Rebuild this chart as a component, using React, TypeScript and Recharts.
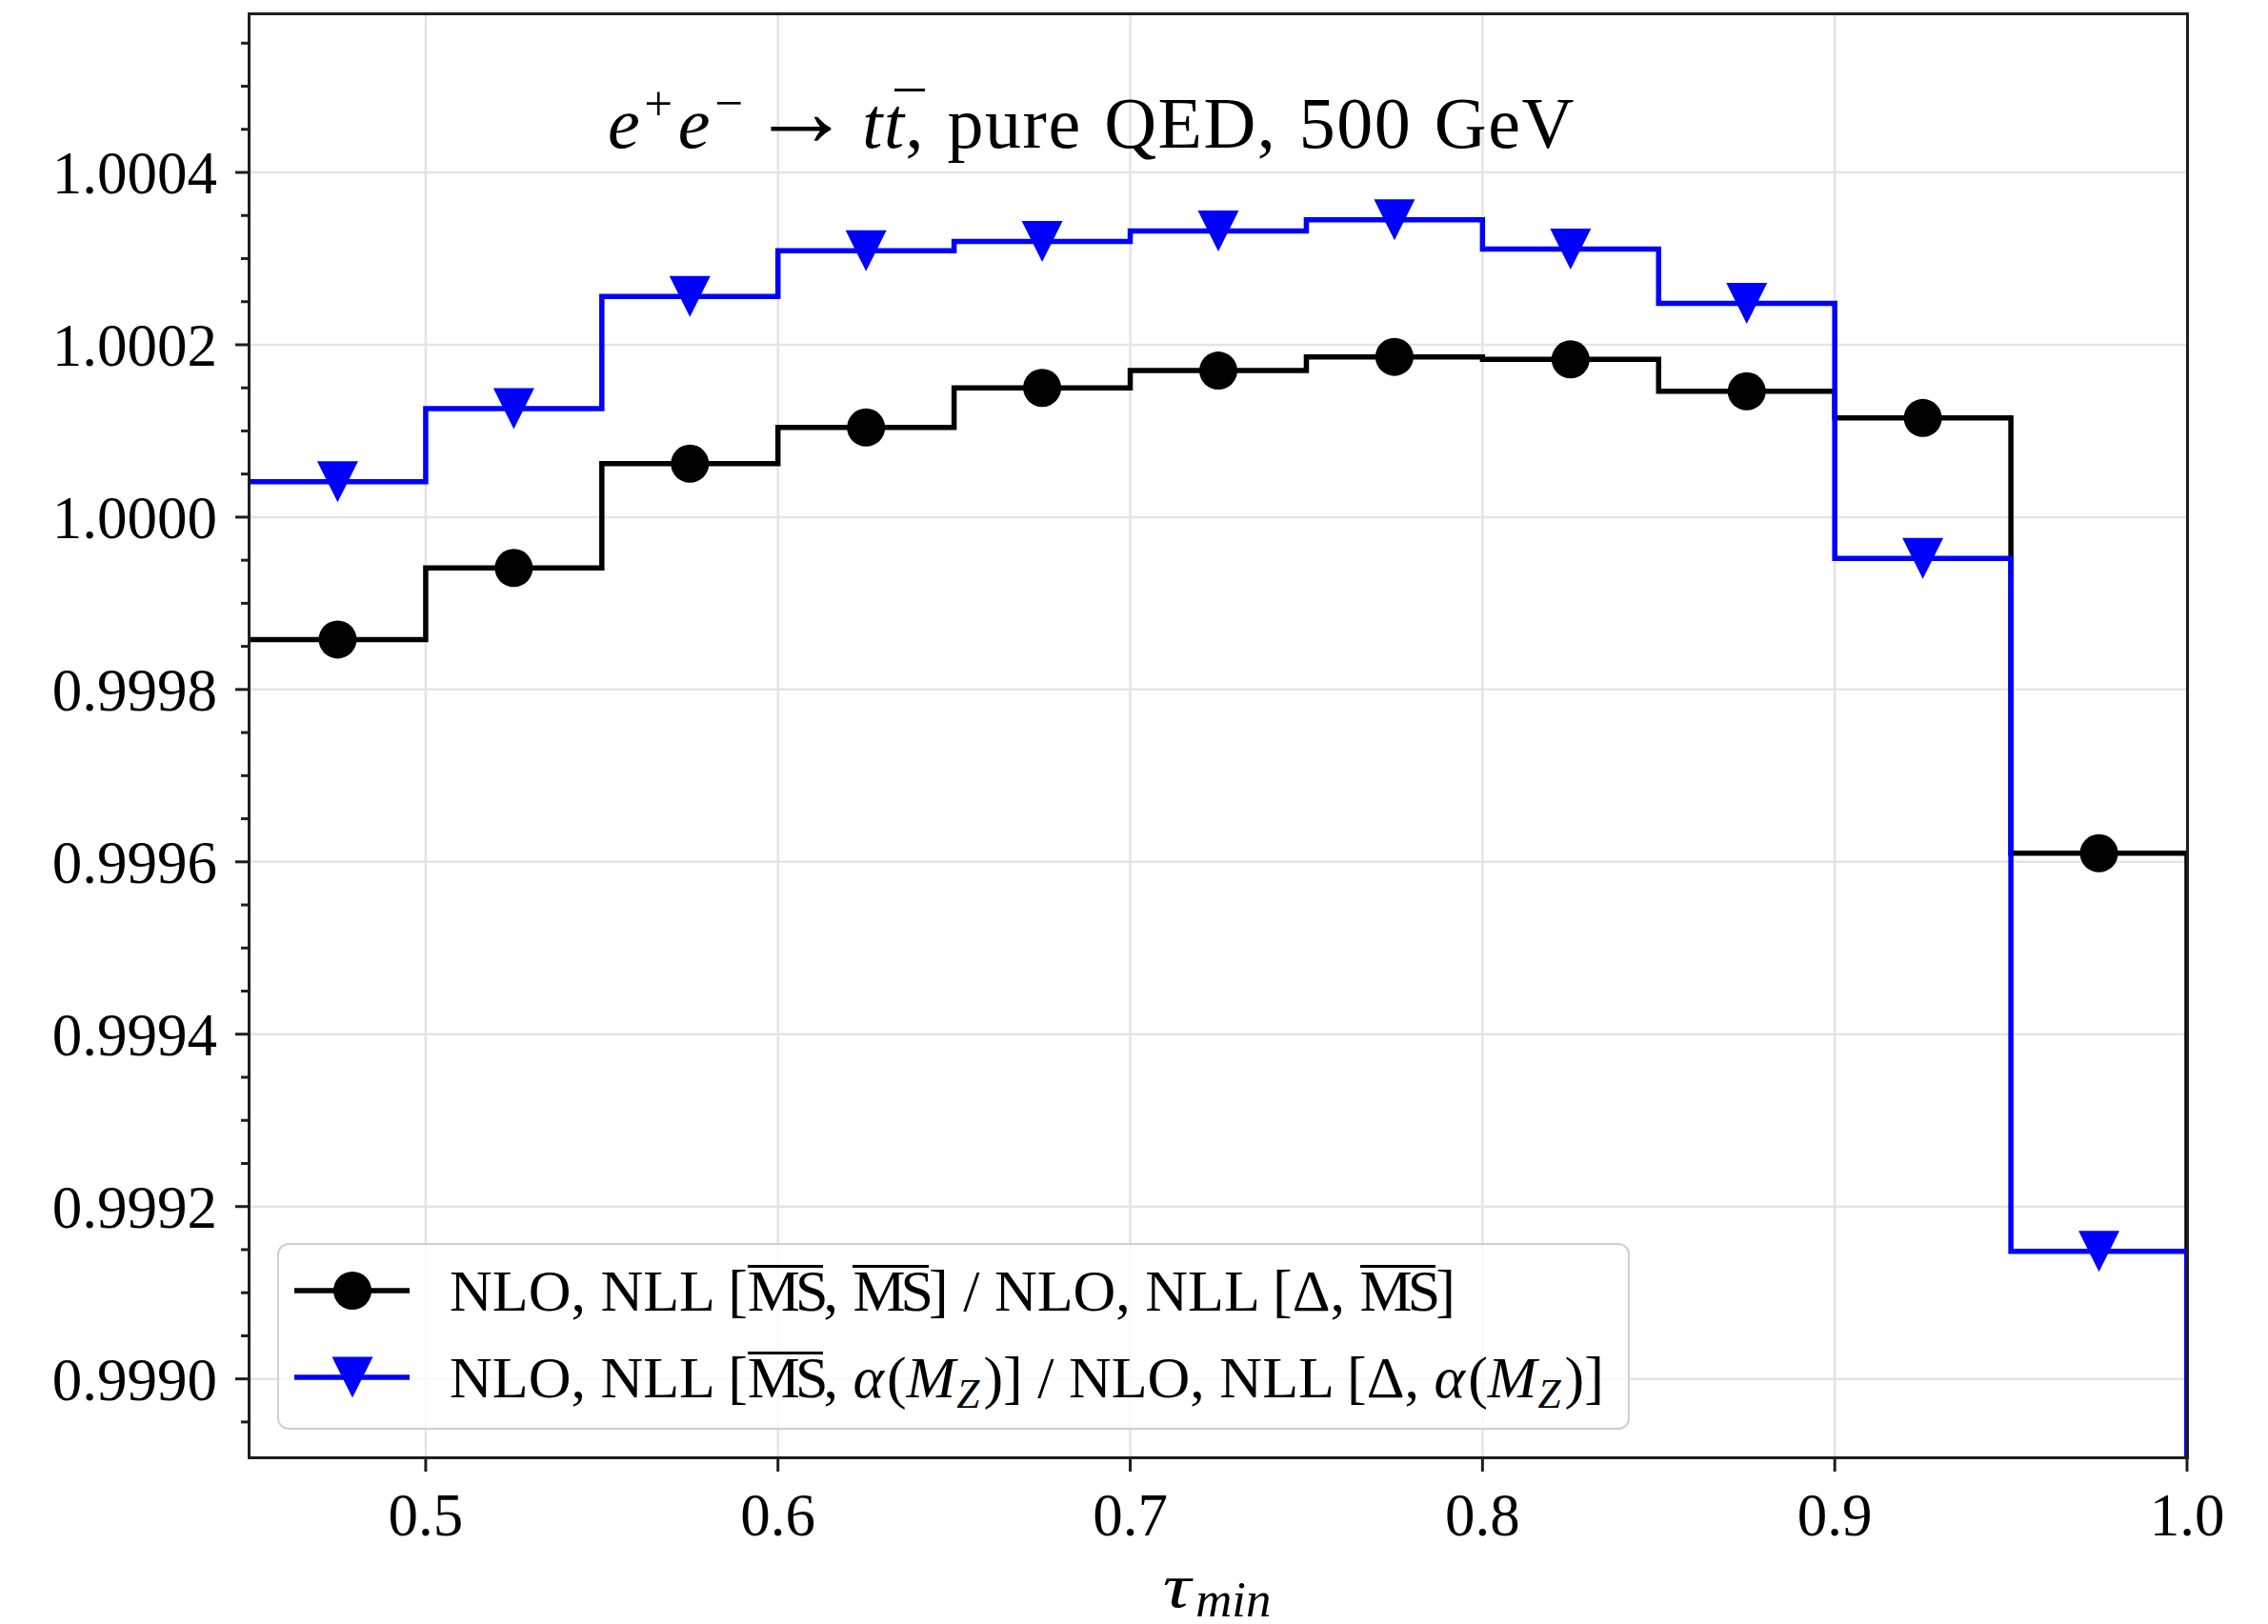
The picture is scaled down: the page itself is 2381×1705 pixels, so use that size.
import { ComposedChart, Line, Scatter, XAxis, YAxis, CartesianGrid, Legend } from "recharts";

const W = 2381;
const H = 1705;
const FONT = "'Liberation Serif', 'Times New Roman', serif";

// bin edges / centres in tau_min
const binEdges = [0.45, 0.5, 0.55, 0.6, 0.65, 0.7, 0.75, 0.8, 0.85, 0.9, 0.95, 1.0];
const binCenters = [0.475, 0.525, 0.575, 0.625, 0.675, 0.725, 0.775, 0.825, 0.875, 0.925, 0.975];

// NLO, NLL [MSbar, MSbar] / NLO, NLL [Delta, MSbar]
const ratioMsMs = [0.999858, 0.999941, 1.000062, 1.000104, 1.00015, 1.00017, 1.000186, 1.000183, 1.000146, 1.000115, 0.99961];
// NLO, NLL [MSbar, alpha(MZ)] / NLO, NLL [Delta, alpha(MZ)]
const ratioMsAlpha = [1.000041, 1.000126, 1.000256, 1.000309, 1.00032, 1.000332, 1.000345, 1.000311, 1.000248, 0.999952, 0.999148];

const xTicks = [0.5, 0.6, 0.7, 0.8, 0.9, 1.0];
const yMajorTicks = [0.999, 0.9992, 0.9994, 0.9996, 0.9998, 1.0, 1.0002, 1.0004];
const yMinorStep = 0.00005;
const yDomain: [number, number] = [0.998909, 1.0005835];

const yTicks: number[] = [];
for (let i = -1; i <= 32; i++) {
  const v = +(0.999 + i * yMinorStep).toFixed(5);
  if (v >= yDomain[0] && v <= yDomain[1]) yTicks.push(v);
}

const isMajor = (v: number) => yMajorTicks.some(t => Math.abs(t - v) < 1e-8);

// histogram-style stairs, dropping to the baseline at the last edge
const toStairs = (vals: number[]) => [
  ...vals.map((v, i) => ({ x: binEdges[i], y: v })),
  { x: binEdges[binEdges.length - 1], y: vals[vals.length - 1] },
  { x: binEdges[binEdges.length - 1], y: yDomain[0] },
];
const toPoints = (vals: number[]) => binCenters.map((x, i) => ({ x, y: vals[i] }));

const SPINE = "#1e1e1e";
const GRID = "#e4e4e4";
const BLUE = "#0000ff";
const LW = 5.5;
const MR = 20;

const Circle = ({ cx, cy }: { cx: number; cy: number }) => <circle cx={cx} cy={cy} r={MR} fill="#000" />;
const TriDown = ({ cx, cy }: { cx: number; cy: number }) => (
  <path d={`M${cx - 21.5},${cy - 21.5}L${cx + 21.5},${cy - 21.5}L${cx},${cy + 21.5}Z`} fill={BLUE} />
);

const YTick = ({ x, y, payload }: any) => {
  const major = isMajor(payload.value);
  return (
    <g>
      <line x1={x - (major ? 15 : 9)} x2={x} y1={y} y2={y} stroke={SPINE} strokeWidth={3} />
      {major && (
        <text x={x - 34} y={y + 22} textAnchor="end" fontSize={63} fontFamily={FONT} fill="#000">
          {payload.value.toFixed(4)}
        </text>
      )}
    </g>
  );
};

const XTick = ({ x, y, payload }: any) => (
  <g>
    <line x1={x} x2={x} y1={y} y2={y + 15} stroke={SPINE} strokeWidth={3} />
    <text x={x} y={y + 82} textAnchor="middle" fontSize={63} fontFamily={FONT} fill="#000">
      {payload.value.toFixed(1)}
    </text>
  </g>
);

// html text placed by its baseline
const BText = ({ x, baseline, fs, center, style, children }: any) => (
  <div
    style={{
      position: "absolute",
      left: x,
      top: baseline - 0.8375 * fs,
      fontSize: fs,
      lineHeight: `${fs}px`,
      fontFamily: FONT,
      whiteSpace: "nowrap",
      transform: center ? "translateX(-50%)" : undefined,
      color: "#000",
      ...style,
    }}
  >
    {children}
  </div>
);

const I = ({ children, style }: any) => <span style={{ fontStyle: "italic", ...style }}>{children}</span>;
// overbar drawn a little above the cap line
const Bar = ({ children, left = 0, width = "100%", top = 4, style }: any) => (
  <span style={{ position: "relative", display: "inline-block", ...style }}>
    {children}
    <span style={{ position: "absolute", left, width, top, borderTop: "3px solid #000" }} />
  </span>
);
const MS = () => <Bar style={{ letterSpacing: -5 }}>MS</Bar>;
const Sup = ({ children, style }: any) => (
  <span style={{ fontSize: "0.7em", position: "relative", top: "-0.55em", ...style }}>{children}</span>
);
const Sub = ({ children, style }: any) => (
  <span style={{ fontSize: "0.7em", position: "relative", top: "0.25em", ...style }}>{children}</span>
);

const alphaMz = (
  <>
    <I style={{ marginRight: 3 }}>α</I>(<I>M</I>
    <Sub style={{ marginLeft: 1, marginRight: 4 }}>
      <I>Z</I>
    </Sub>
    )
  </>
);

const labelMsMs = (
  <>
    NLO, NLL [<MS />, <MS />] / NLO, NLL [Δ, <MS />]
  </>
);
const labelMsAlpha = (
  <>
    NLO, NLL [<MS />, {alphaMz}] / NLO, NLL [Δ, {alphaMz}]
  </>
);

const legendRows = [
  { label: labelMsMs, color: "#000", marker: "circle" },
  { label: labelMsAlpha, color: BLUE, marker: "tri" },
];

const LegendBox = () => (
  <div
    style={{
      position: "relative",
      width: 1420,
      height: 196,
      boxSizing: "border-box",
      border: "2.5px solid #cfcfcf",
      borderRadius: 12,
      background: "rgba(255,255,255,0.8)",
    }}
  >
    {legendRows.map((r, i) => {
      const cy = 50 + i * 91;
      return (
        <div key={i}>
          <svg style={{ position: "absolute", left: 0, top: 0 }} width={160} height={196}>
            <line x1={16} x2={137} y1={cy - 2} y2={cy - 2} stroke={r.color} strokeWidth={LW} />
            {r.marker === "circle" ? <Circle cx={77} cy={cy - 2} /> : <TriDown cx={77} cy={cy - 2} />}
          </svg>
          <BText x={179} baseline={cy + 19} fs={62}>
            {r.label}
          </BText>
        </div>
      );
    })}
  </div>
);

export default function App() {
  return (
    <div style={{ position: "absolute", left: 0, top: 0, width: W, height: H, background: "#fff" }}>
      <ComposedChart width={W} height={H} margin={{ top: 15, right: 85, bottom: 0, left: 0 }}>
        <CartesianGrid stroke={GRID} strokeWidth={2.5} horizontalValues={yMajorTicks} verticalValues={xTicks} />
        <XAxis
          type="number"
          dataKey="x"
          domain={[0.45, 1.0]}
          allowDataOverflow
          ticks={xTicks}
          interval={0}
          height={175}
          axisLine={false}
          tickLine={false}
          tickSize={0}
          tickMargin={0}
          tick={<XTick />}
        />
        <YAxis
          type="number"
          dataKey="y"
          domain={yDomain}
          allowDataOverflow
          ticks={yTicks}
          interval={0}
          width={262}
          axisLine={false}
          tickLine={false}
          tickSize={0}
          tickMargin={0}
          tick={<YTick />}
        />
        <Line
          data={toStairs(ratioMsMs)}
          dataKey="y"
          type="stepAfter"
          stroke="#000"
          strokeWidth={LW}
          strokeLinejoin="miter"
          dot={false}
          activeDot={false}
          isAnimationActive={false}
        />
        <Scatter data={toPoints(ratioMsMs)} shape={Circle as any} isAnimationActive={false} />
        <Line
          data={toStairs(ratioMsAlpha)}
          dataKey="y"
          type="stepAfter"
          stroke={BLUE}
          strokeWidth={LW}
          strokeLinejoin="miter"
          dot={false}
          activeDot={false}
          isAnimationActive={false}
        />
        <Scatter data={toPoints(ratioMsAlpha)} shape={TriDown as any} isAnimationActive={false} />
        <Legend
          layout="horizontal"
          verticalAlign="middle"
          align="center"
          content={<LegendBox />}
          wrapperStyle={{ left: 291, top: 1305, width: 1420, height: 196 }}
        />
      </ComposedChart>

      {/* axes frame */}
      <div
        style={{
          position: "absolute",
          left: 262 - 1.75,
          top: 15 - 1.75,
          width: 2034 + 3.5,
          height: 1515 + 3.5,
          boxSizing: "border-box",
          border: `3.5px solid ${SPINE}`,
          pointerEvents: "none",
        }}
      />

      {/* title */}
      <BText x={638} baseline={155} fs={76} style={{ letterSpacing: 1.5, wordSpacing: 3 }}>
        <I>e</I>
        <Sup style={{ marginLeft: 3, marginRight: 4 }}>+</Sup>
        <I>e</I>
        <Sup style={{ marginLeft: 3, marginRight: 6 }}>−</Sup>
        <span style={{ fontSize: "1.4em", position: "relative", top: "-0.02em", lineHeight: 0, marginRight: 10 }}>→</span>
        <I>t</I>
        <I>
          <Bar left="0.14em" width="0.42em" top={2}>
            t
          </Bar>
        </I>
        , pure QED, 500 GeV
      </BText>

      {/* x axis label */}
      <BText x={1279} baseline={1687} fs={66} center>
        <I style={{ display: "inline-block", transform: "scaleX(1.25)", marginRight: 8 }}>τ</I>
        <Sub style={{ fontSize: "0.8em", top: "0.2em" }}>
          <I>min</I>
        </Sub>
      </BText>
    </div>
  );
}
